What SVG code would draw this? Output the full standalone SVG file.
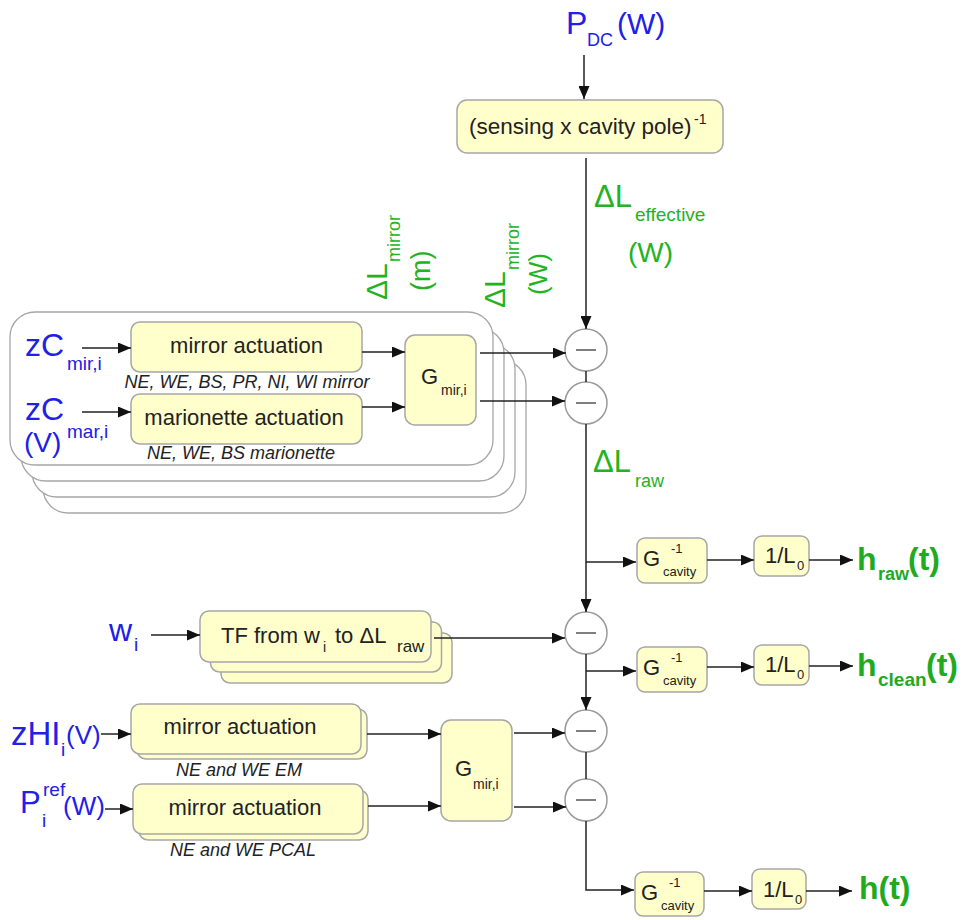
<svg xmlns="http://www.w3.org/2000/svg" width="962" height="920" viewBox="0 0 962 920">
<defs>
<marker id="ah" markerUnits="userSpaceOnUse" markerWidth="13" markerHeight="11" refX="13" refY="5.5" orient="auto">
<path d="M0,0 L13,5.5 L0,11 z" fill="#111"/>
</marker>
<style>
text{font-family:"Liberation Sans",Arial,sans-serif}
.box{fill:#ffffcc;stroke:#a6a6a6;stroke-width:1.5}
.grp{fill:#fff;stroke:#a6a6a6;stroke-width:1.3}
.sum{fill:#fff;stroke:#9a9a9a;stroke-width:1.5}
.minus{stroke:#555;stroke-width:1.5}
.c path{fill:none;stroke:#222;stroke-width:1.5}
.a{marker-end:url(#ah)}
.t{fill:#222}
.it{fill:#222;font-style:italic;font-size:18px}
.b{fill:#2020e8}
.g{fill:#22b322}
.hb{fill:#1faa1f;font-weight:bold}
</style>
</defs>
<rect width="962" height="920" fill="#fff"/>

<g id="actuator-group">
<rect class="grp" x="43" y="360" width="483" height="153" rx="25"/>
<rect class="grp" x="32" y="344" width="483" height="153" rx="25"/>
<rect class="grp" x="21" y="328" width="483" height="153" rx="25"/>
<rect class="grp" x="10" y="312" width="483" height="153" rx="25"/>
</g>

<g id="pdc"><text class="b"><tspan x="566" y="34" font-size="32">P</tspan><tspan x="587" y="46" font-size="18">DC</tspan><tspan x="617" y="34" font-size="30">(W)</tspan></text></g>

<g id="sensing">
<rect class="box" x="457" y="100" width="266" height="53" rx="10"/>
<text class="t"><tspan x="469" y="134" font-size="22.5">(sensing x cavity pole)</tspan><tspan x="694" y="124" font-size="14">-1</tspan></text>
</g>

<g id="dl-effective"><text class="g"><tspan x="594" y="207" font-size="31">ΔL</tspan><tspan x="635" y="221" font-size="19">effective</tspan></text>
<text class="g" x="628" y="262" font-size="28">(W)</text></g>

<g id="dl-mirror-m" transform="translate(387,300) rotate(-90)"><text class="g"><tspan x="0" y="0" font-size="30">ΔL</tspan><tspan x="38" y="13" font-size="18">mirror</tspan><tspan x="9" y="43" font-size="27">(m)</tspan></text></g>
<g id="dl-mirror-w" transform="translate(505,308) rotate(-90)"><text class="g"><tspan x="0" y="0" font-size="30">ΔL</tspan><tspan x="38" y="14" font-size="18">mirror</tspan><tspan x="13" y="42" font-size="26">(W)</tspan></text></g>

<g id="zc-mir"><text class="b"><tspan x="25" y="356" font-size="32">zC</tspan><tspan x="67" y="370" font-size="19">mir,i</tspan></text></g>
<g id="zc-mar"><text class="b"><tspan x="25" y="420" font-size="32">zC</tspan><tspan x="67" y="438" font-size="19">mar,i</tspan></text>
<text class="b" x="24" y="452" font-size="28">(V)</text></g>

<g id="mirror-act">
<rect class="box" x="131" y="322" width="231" height="50" rx="9"/>
<text class="t" x="246.5" y="353" font-size="22" text-anchor="middle">mirror actuation</text>
<text class="it" x="247" y="388" text-anchor="middle">NE, WE, BS, PR, NI, WI mirror</text>
</g>
<g id="marionette-act">
<rect class="box" x="131" y="394" width="231" height="50" rx="9"/>
<text class="t" x="244" y="425" font-size="22" text-anchor="middle">marionette actuation</text>
<text class="it" x="241" y="459" text-anchor="middle">NE, WE, BS marionette</text>
</g>
<g id="gmir-top">
<rect class="box" x="405" y="335" width="71" height="90" rx="10"/>
<text class="t"><tspan x="421" y="384" font-size="22">G</tspan><tspan x="441" y="395" font-size="14">mir,i</tspan></text>
</g>

<g id="sum1"><circle class="sum" cx="586" cy="350" r="21"/><line class="minus" x1="576" y1="350" x2="596" y2="350"/></g>
<g id="sum2"><circle class="sum" cx="586" cy="403" r="21"/><line class="minus" x1="576" y1="403" x2="596" y2="403"/></g>

<g id="dl-raw"><text class="g"><tspan x="593" y="472" font-size="31">ΔL</tspan><tspan x="635" y="487" font-size="18">raw</tspan></text></g>

<g id="gcav1">
<rect class="box" x="637" y="538" width="70" height="45" rx="8"/>
<text class="t"><tspan x="643" y="566" font-size="22">G</tspan><tspan x="671" y="553" font-size="13">-1</tspan><tspan x="663" y="576" font-size="13">cavity</tspan></text>
</g>
<g id="l0-1">
<rect class="box" x="754" y="536" width="55" height="40" rx="8"/>
<text class="t"><tspan x="765" y="563" font-size="22">1/L</tspan><tspan x="797" y="570" font-size="13">0</tspan></text>
</g>
<g id="hraw"><text class="hb"><tspan x="857" y="570" font-size="32">h</tspan><tspan x="878" y="580" font-size="18">raw</tspan><tspan x="908" y="570" font-size="32">(t)</tspan></text></g>

<g id="wi"><text class="b"><tspan x="109" y="641" font-size="32">w</tspan><tspan x="134" y="651" font-size="19">i</tspan></text></g>
<g id="tf">
<rect class="box" x="221" y="633" width="231" height="50" rx="9"/>
<rect class="box" x="210.5" y="622" width="231" height="50" rx="9"/>
<rect class="box" x="200" y="611" width="231" height="51" rx="9"/>
<text class="t"><tspan x="221" y="643" font-size="22">TF from w</tspan><tspan x="323" y="652" font-size="14">i</tspan><tspan x="335" y="643" font-size="22">to ΔL</tspan><tspan x="397" y="652" font-size="17">raw</tspan></text>
</g>

<g id="sum3"><circle class="sum" cx="586" cy="633" r="21"/><line class="minus" x1="576" y1="633" x2="596" y2="633"/></g>

<g id="gcav2">
<rect class="box" x="637" y="647" width="70" height="45" rx="8"/>
<text class="t"><tspan x="643" y="675" font-size="22">G</tspan><tspan x="671" y="662" font-size="13">-1</tspan><tspan x="663" y="685" font-size="13">cavity</tspan></text>
</g>
<g id="l0-2">
<rect class="box" x="754" y="645" width="55" height="40" rx="8"/>
<text class="t"><tspan x="765" y="672" font-size="22">1/L</tspan><tspan x="797" y="679" font-size="13">0</tspan></text>
</g>
<g id="hclean"><text class="hb"><tspan x="857" y="676" font-size="32">h</tspan><tspan x="878" y="686" font-size="19">clean</tspan><tspan x="926" y="676" font-size="32">(t)</tspan></text></g>

<g id="zhi"><text class="b"><tspan x="11" y="745" font-size="33">zHI</tspan><tspan x="61" y="756" font-size="19">i</tspan><tspan x="66" y="744" font-size="26">(V)</tspan></text></g>
<g id="pref"><text class="b"><tspan x="20" y="813" font-size="31">P</tspan><tspan x="43" y="796" font-size="19">ref</tspan><tspan x="42" y="827" font-size="19">i</tspan></text>
<text class="b" x="63" y="815" font-size="26">(W)</text></g>

<g id="em-act">
<rect class="box" x="137" y="709" width="230" height="50" rx="9"/>
<rect class="box" x="131" y="704" width="230" height="50" rx="9"/>
<text class="t" x="240" y="734" font-size="22" text-anchor="middle">mirror actuation</text>
<text class="it" x="239" y="776" text-anchor="middle">NE and WE EM</text>
</g>
<g id="pcal-act">
<rect class="box" x="139" y="790" width="229" height="50" rx="9"/>
<rect class="box" x="133" y="784" width="230" height="50" rx="9"/>
<text class="t" x="245" y="815" font-size="22" text-anchor="middle">mirror actuation</text>
<text class="it" x="243" y="856" text-anchor="middle">NE and WE PCAL</text>
</g>
<g id="gmir-bottom">
<rect class="box" x="441" y="720" width="71" height="101" rx="10"/>
<text class="t"><tspan x="455" y="776" font-size="22">G</tspan><tspan x="473" y="789" font-size="14">mir,i</tspan></text>
</g>

<g id="sum4"><circle class="sum" cx="586" cy="731" r="21"/><line class="minus" x1="576" y1="731" x2="596" y2="731"/></g>
<g id="sum5"><circle class="sum" cx="586" cy="800" r="21"/><line class="minus" x1="576" y1="800" x2="596" y2="800"/></g>

<g id="gcav3">
<rect class="box" x="635" y="872" width="69" height="44" rx="8"/>
<text class="t"><tspan x="641" y="900" font-size="22">G</tspan><tspan x="669" y="887" font-size="13">-1</tspan><tspan x="661" y="910" font-size="13">cavity</tspan></text>
</g>
<g id="l0-3">
<rect class="box" x="752" y="869" width="54" height="40" rx="8"/>
<text class="t"><tspan x="763" y="897" font-size="22">1/L</tspan><tspan x="795" y="904" font-size="13">0</tspan></text>
</g>
<g id="h"><text class="hb" x="859" y="899" font-size="32">h(t)</text></g>

<g id="connectors" class="c">
<path class="a" d="M584,55 V99"/>
<path class="a" d="M586,158 V329"/>
<path d="M586,371 V382"/>
<path class="a" d="M586,424 V612"/>
<path class="a" d="M586,562 H636"/>
<path class="a" d="M707,560 H754"/>
<path class="a" d="M809,560 H853"/>
<path class="a" d="M586,654 V710"/>
<path class="a" d="M586,671 H636"/>
<path class="a" d="M707,667 H754"/>
<path class="a" d="M809,666 H853"/>
<path d="M586,752 V779"/>
<path class="a" d="M586,821 V890 H634"/>
<path class="a" d="M704,891 H752"/>
<path class="a" d="M806,891 H852"/>
<path class="a" d="M82,348 H131"/>
<path class="a" d="M82,412 H131"/>
<path class="a" d="M362,352 H405"/>
<path class="a" d="M362,407 H405"/>
<path class="a" d="M480,353 H566"/>
<path class="a" d="M480,401 H565"/>
<path class="a" d="M151,635 H200"/>
<path class="a" d="M434,638 H565"/>
<path class="a" d="M101,734 H131"/>
<path class="a" d="M105,809 H133"/>
<path class="a" d="M367,734 H441"/>
<path class="a" d="M368,806 H441"/>
<path class="a" d="M514,733 H565"/>
<path class="a" d="M514,807 H566"/>
</g>
</svg>
